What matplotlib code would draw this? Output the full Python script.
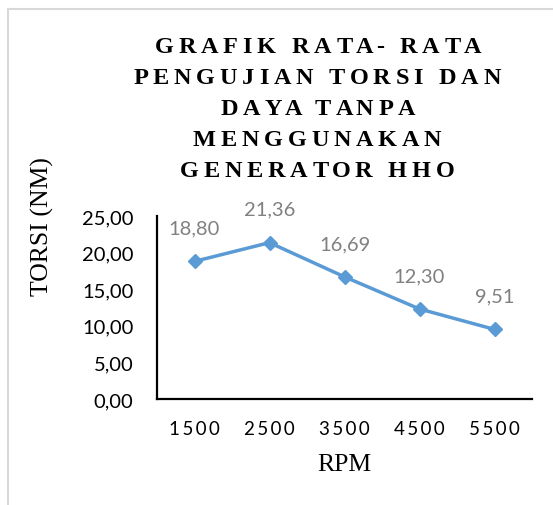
import matplotlib
matplotlib.use("Agg")
import matplotlib.pyplot as plt
from matplotlib.lines import Line2D

# ---- data ----
rpm_labels = ["1500", "2500", "3500", "4500", "5500"]
torsi = [18.80, 21.36, 16.69, 12.30, 9.51]
y_ticks = [0, 5, 10, 15, 20, 25]
title_lines = ["GRAFIK RATA- RATA", "PENGUJIAN TORSI DAN", "DAYA TANPA",
               "MENGGUNAKAN", "GENERATOR HHO"]
x_label = "RPM"
y_label = "TORSI (NM)"

W, H, DPI = 553, 506, 100
fig = plt.figure(figsize=(W / DPI, H / DPI), dpi=DPI)
fig.patch.set_facecolor("white")

def px(x, y):
    return x / W, 1 - y / H

# light frame lines (top and left)
fig.add_artist(Line2D([8 / W, 1], [1 - 10 / H, 1 - 10 / H], color="#d9d9d9", lw=1.5, transform=fig.transFigure))
fig.add_artist(Line2D([8 / W, 8 / W], [0, 1 - 10 / H], color="#d9d9d9", lw=1.5, transform=fig.transFigure))

ax_l, ax_r, ax_t, ax_b = 157, 532, 217, 400
ax = fig.add_axes([ax_l / W, 1 - ax_b / H, (ax_r - ax_l) / W, (ax_b - ax_t) / H])
x = list(range(len(torsi)))
ax.plot(x, torsi, color="#5B9BD5", lw=2.5, marker="D", markersize=7.5, zorder=3)
ax.set_xlim(-0.5, len(torsi) - 0.5)
ax.set_ylim(0, 25)
ax.set_yticks(y_ticks)
ax.set_yticklabels([f"{v:.2f}".replace(".", ",") for v in y_ticks],
                   family=["Lato", "DejaVu Sans"], fontsize=14.5)
ax.set_xticks(x)
ax.set_xticklabels(["\u2009".join(s) for s in rpm_labels],
                   family=["Lato", "DejaVu Sans"], fontsize=13.5)
ax.tick_params(axis="y", length=0, pad=17)
ax.tick_params(axis="x", length=0, pad=15)
for s in ["top", "right"]:
    ax.spines[s].set_visible(False)
for s in ["left", "bottom"]:
    ax.spines[s].set_linewidth(1.6)
    ax.spines[s].set_color("black")
ax.set_facecolor("none")

for xi, v in zip(x, torsi):
    ax.annotate(f"{v:.2f}".replace(".", ","), (xi, v), xytext=(0, 24),
                textcoords="offset points", ha="center", va="center",
                color="#808080", fontsize=14.5, family=["Lato", "DejaVu Sans"])

# axis labels
fig.text(*px(344, 465), x_label, ha="center", va="center",
         family="Liberation Serif", fontsize=18.5)
fig.text(*px(42, 227), y_label, ha="center", va="center", rotation=90,
         family="Liberation Serif", fontsize=18.5)

# title with letter spacing
renderer = fig.canvas.get_renderer()
tprops = dict(family="Liberation Serif", fontsize=17.5, fontweight="bold")

def text_width(s):
    t = fig.text(0, 0, s + "|", **tprops)
    w = t.get_window_extent(renderer).width
    t.remove()
    t2 = fig.text(0, 0, "|", **tprops)
    w2 = t2.get_window_extent(renderer).width
    t2.remove()
    return w - w2

def spaced(s, cx, baseline, spacing):
    def off(i):
        return (text_width(s[:i]) if i else 0) + spacing * i
    total = off(len(s)) - spacing
    x0 = cx - total / 2
    for i, ch in enumerate(s):
        if ch == " ":
            continue
        fig.text((x0 + off(i)) / W, 1 - baseline / H, ch, ha="left",
                 va="baseline", **tprops)

for i, line in enumerate(title_lines):
    spaced(line, 317, 53 + i * 31, 4.8)

fig.savefig("out.png", dpi=DPI)
